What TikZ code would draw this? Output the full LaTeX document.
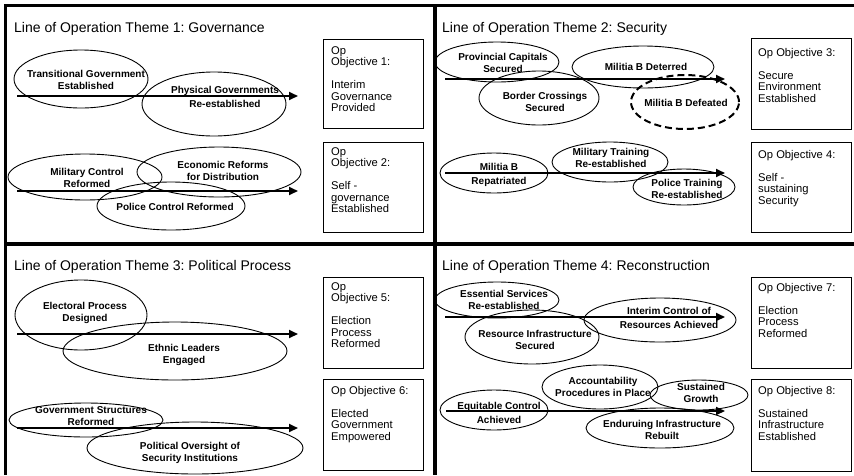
\documentclass[tikz,border=0pt]{standalone}
\usepackage{fontspec}
\setmainfont{Liberation Sans}
\frenchspacing
\usetikzlibrary{shapes.geometric,arrows.meta}
\tikzset{
  oval/.style={ellipse, draw, line width=0.9pt, inner sep=0pt},
  dashoval/.style={ellipse, draw, line width=2pt, dash pattern=on 7pt off 4pt, inner sep=0pt},
  lbl/.style={font=\fontsize{10}{11.5}\selectfont\bfseries, align=center, inner sep=0pt},
  objbox/.style={draw, line width=1.3pt, anchor=north west, inner sep=0pt, minimum width=100pt},
  objtxt/.style={font=\fontsize{11.2}{11.5}\selectfont, align=left, anchor=north west, inner sep=0pt},
  flow/.style={line width=1.8pt, -{Triangle[length=9pt,width=8pt]}},
  ttl/.style={font=\fontsize{14}{16}\selectfont, anchor=base west, inner sep=0pt},
  framebar/.style={line width=4pt},
}
\begin{document}
\begin{tikzpicture}[x=1pt, y=-1pt]
\useasboundingbox (0,0) rectangle (854,475);
% frame
\draw[line width=3.5pt] (4,5.5) -- (854,5.5);
\draw[line width=2.5pt] (5.5,4) -- (5.5,475);
\draw[framebar] (435,4) -- (435,475);
\draw[framebar] (4,244) -- (854,244);

% titles
\node[ttl] (t1) at (14,32) {Line of Operation Theme 1: Governance};
\node[ttl] (t2) at (442,32) {Line of Operation Theme 2: Security};
\node[ttl] (t3) at (14,270) {Line of Operation Theme 3: Political Process};
\node[ttl] (t4) at (442,270) {Line of Operation Theme 4: Reconstruction};

% ---------- Theme 1 ----------
\node[oval, minimum width=134pt, minimum height=58pt] (tg) at (81,79) {};
\node[oval, minimum width=144pt, minimum height=64pt] (pg) at (214,104) {};
\node[oval, minimum width=154pt, minimum height=46pt] (mc) at (85,177) {};
\node[oval, minimum width=164pt, minimum height=50pt] (er) at (219,172) {};
\node[oval, minimum width=148pt, minimum height=48pt] (pc) at (171,206) {};
\node[lbl] (tgl) at (86,80) {Transitional Government\\Established};
\node[lbl] (pgl) at (225,97) {Physical Governments\\[3pt]Re-established};
\node[lbl] (mcl) at (87,178) {Military Control\\Reformed};
\node[lbl] (erl) at (223,171) {Economic Reforms\\for Distribution};
\node[lbl] (pcl) at (175,207) {Police Control Reformed};
\coordinate (a1s) at (17,96); \coordinate (a1e) at (298,96);
\coordinate (a2s) at (17,191); \coordinate (a2e) at (298,191);
\draw[flow] (a1s) -- (a1e);
\draw[flow] (a2s) -- (a2e);
\node[objbox, minimum height=89pt] (oo1) at (323,39) {};
\node[objbox, minimum height=90pt] (oo2) at (323,142) {};
\node[objtxt] (oo1t) at (331,46) {Op\\Objective 1:\\[11.5pt]Interim\\Governance\\Provided};
\node[objtxt] (oo2t) at (331,147) {Op\\Objective 2:\\[11.5pt]Self -\\governance\\Established};

% ---------- Theme 2 ----------
\node[oval, minimum width=124pt, minimum height=40pt] (pcs) at (497,62) {};
\node[oval, minimum width=142pt, minimum height=42pt] (mbd) at (643,67) {};
\node[oval, minimum width=120pt, minimum height=54pt] (bcs) at (539,98) {};
\node[dashoval, minimum width=108pt, minimum height=54pt] (mbf) at (685,102) {};
\node[oval, minimum width=108pt, minimum height=40pt] (mbr) at (494,173) {};
\node[oval, minimum width=116pt, minimum height=40pt] (mtr) at (610,162) {};
\node[oval, minimum width=102pt, minimum height=36pt] (ptr) at (684,187) {};
\node[lbl] (pcsl) at (503,63) {Provincial Capitals\\Secured};
\node[lbl] (mbdl) at (646,67) {Militia B Deterred};
\node[lbl] (bcsl) at (545,102) {Border Crossings\\Secured};
\node[lbl] (mbfl) at (686,103) {Militia B Defeated};
\node[lbl] (mbrl) at (499,175) {Militia B\\[3pt]Repatriated};
\node[lbl] (mtrl) at (611,158) {Military Training\\Re-established};
\node[lbl] (ptrl) at (687,189) {Police Training\\Re-established};
\coordinate (b1s) at (445,79); \coordinate (b1e) at (725,79);
\coordinate (b2s) at (445,173); \coordinate (b2e) at (725,173);
\draw[flow] (b1s) -- (b1e);
\draw[flow] (b2s) -- (b2e);
\node[objbox, minimum height=91pt] (oo3) at (751,38) {};
\node[objbox, minimum height=90pt] (oo4) at (751,142) {};
\node[objtxt] (oo3t) at (758,48) {Op Objective 3:\\[11.5pt]Secure\\Environment\\Established};
\node[objtxt] (oo4t) at (758,150) {Op Objective 4:\\[11.5pt]Self -\\sustaining\\Security};

% ---------- Theme 3 ----------
\node[oval, minimum width=132pt, minimum height=70pt] (epd) at (81,315) {};
\node[oval, minimum width=224pt, minimum height=58pt] (ele) at (175,351) {};
\node[oval, minimum width=154pt, minimum height=34pt] (gsr) at (86,420) {};
\node[oval, minimum width=216pt, minimum height=52pt] (pos) at (195,448) {};
\node[lbl] (epdl) at (85,313) {Electoral Process\\Designed};
\node[lbl] (elel) at (184,355) {Ethnic Leaders\\Engaged};
\node[lbl] (gsrl) at (91,416) {Government Structures\\Reformed};
\node[lbl] (posl) at (190,453) {Political Oversight of\\Security Institutions};
\coordinate (c1s) at (17,334); \coordinate (c1e) at (298,334);
\coordinate (c2s) at (17,428); \coordinate (c2e) at (298,428);
\draw[flow] (c1s) -- (c1e);
\draw[flow] (c2s) -- (c2e);
\node[objbox, minimum height=91pt] (oo5) at (323,277) {};
\node[objbox, minimum height=91pt] (oo6) at (323,379) {};
\node[objtxt] (oo5t) at (331,282) {Op\\Objective 5:\\[11.5pt]Election\\Process\\Reformed};
\node[objtxt] (oo6t) at (331,386) {Op Objective 6:\\[11.5pt]Elected\\Government\\Empowered};

% ---------- Theme 4 ----------
\node[oval, minimum width=124pt, minimum height=36pt] (ess) at (497,300) {};
\node[oval, minimum width=152pt, minimum height=44pt] (icr) at (660,320) {};
\node[oval, minimum width=134pt, minimum height=54pt] (ris) at (532,337) {};
\node[oval, minimum width=116pt, minimum height=44pt] (apl) at (600,387) {};
\node[oval, minimum width=98pt, minimum height=30pt] (sg) at (699,395) {};
\node[oval, minimum width=108pt, minimum height=40pt] (eca) at (494,410) {};
\node[oval, minimum width=148pt, minimum height=40pt] (eir) at (660,428) {};
\node[lbl] (essl) at (504,300) {Essential Services\\Re-established};
\node[lbl] (icrl) at (669,318) {Interim Control of\\[3pt]Resources Achieved};
\node[lbl] (risl) at (535,340) {Resource Infrastructure\\Secured};
\node[lbl] (apll) at (603,387) {Accountability\\Procedures in Place};
\node[lbl] (sgl) at (701,393) {Sustained\\Growth};
\node[lbl] (ecal) at (499,413) {Equitable Control\\[3pt]Achieved};
\node[lbl] (eirl) at (662,430) {Enduruing Infrastructure\\Rebuilt};
\coordinate (d1s) at (445,317); \coordinate (d1e) at (725,317);
\coordinate (d2s) at (446,411); \coordinate (d2e) at (725,411);
\draw[flow] (d1s) -- (d1e);
\draw[flow] (d2s) -- (d2e);
\node[objbox, minimum height=91pt] (oo7) at (751,277) {};
\node[objbox, minimum height=92pt] (oo8) at (751,379) {};
\node[objtxt] (oo7t) at (758,283) {Op Objective 7:\\[11.5pt]Election\\Process\\Reformed};
\node[objtxt] (oo8t) at (758,386) {Op Objective 8:\\[11.5pt]Sustained\\Infrastructure\\Established};
\end{tikzpicture}
\end{document}
